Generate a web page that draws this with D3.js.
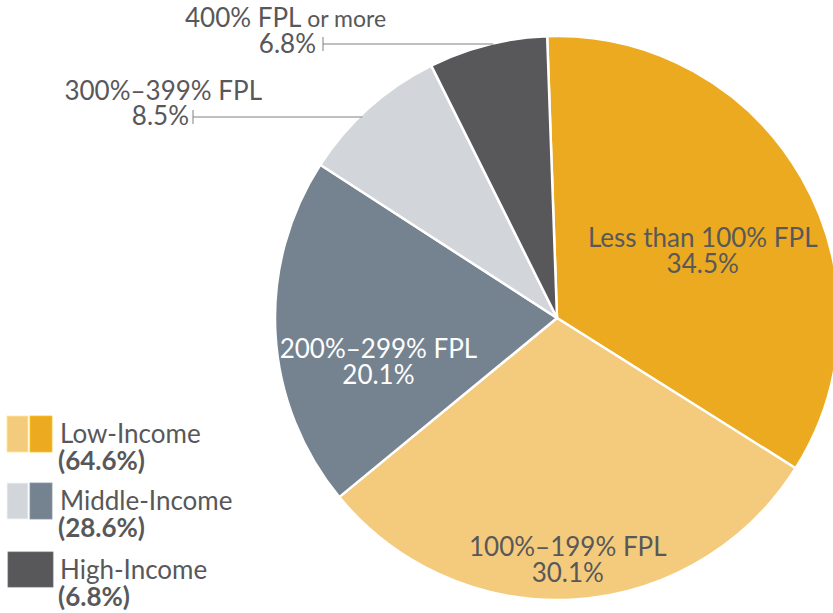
<html>
<head>
<style>
  body { margin: 0; background: #fff; }
  text { font-family: Lato, "Open Sans", sans-serif; }
</style>
<script src="https://cdn.jsdelivr.net/npm/d3@7"></script>
</head>
<body>
<div id="chartContainer"></div>
<script>
// slice data, clockwise from the top
var categories = ["Less than 100% FPL", "100%–199% FPL", "200%–299% FPL", "300%–399% FPL", "400% FPL or more"];
var values = [34.5, 30.1, 20.1, 8.5, 6.8];
var sliceColors = ["#ebaa20", "#f4cb7c", "#758390", "#d2d5da", "#58585a"];

// legend groups
var groups = ["Low-Income", "Middle-Income", "High-Income"];
var groupValues = [64.6, 28.6, 6.8];
var groupSlices = [[1, 0], [3, 2], [4]];

var W = 833, H = 613;
var cx = 557, cy = 318, R = 282;
var textColor = "#58585a";
var fs = 26;

var svg = d3.select("#chartContainer").append("svg")
  .attr("width", W).attr("height", H);

var data = categories.map(function (c, i) { return { name: c, value: values[i] }; });

var pie = d3.pie().sort(null).value(function (d) { return d.value; })
  .startAngle(-2 * Math.PI / 180).endAngle(2 * Math.PI - 2 * Math.PI / 180);
var arc = d3.arc().innerRadius(0).outerRadius(R);
var arcs = pie(data);

var g = svg.append("g").attr("transform", "translate(" + cx + "," + cy + ")");

g.selectAll("path.slice")
  .data(arcs)
  .enter().append("path")
    .attr("class", "slice")
    .attr("d", arc)
    .attr("fill", function (d, i) { return sliceColors[i]; })
    .attr("stroke", "#fff")
    .attr("stroke-width", 2.5)
    .attr("stroke-linejoin", "round");

// inside labels: polar position of the first baseline (radius, degrees from north)
var inside = [
  { i: 0, r: 162, a: 64.1, fill: textColor },
  { i: 1, r: 238, a: 177.4, fill: textColor },
  { i: 2, r: 183, a: 257.4, fill: "#fff" }
];
inside.forEach(function (p) {
  var rad = p.a * Math.PI / 180;
  var x = p.r * Math.sin(rad), y = -p.r * Math.cos(rad);
  var t = g.append("text")
    .attr("text-anchor", "middle")
    .attr("font-size", fs)
    .attr("fill", p.fill);
  t.append("tspan").attr("x", x).attr("y", y).text(categories[p.i]);
  t.append("tspan").attr("x", x).attr("y", y + 26).text(values[p.i].toFixed(1) + "%");
});

// outside labels with leader lines
var outside = [
  { i: 3, nameX: 262, nameY: 100, valX: 189, valY: 125, lineY: 117, tickX: 193 },
  { i: 4, nameX: 185, nameY: 27, valX: 316, valY: 53, lineY: 44, tickX: 323 }
];
outside.forEach(function (p) {
  if (p.i === 4) {
    var t = svg.append("text").attr("x", p.nameX).attr("y", p.nameY)
      .attr("font-size", fs).attr("fill", textColor);
    t.append("tspan").text("400% FPL ");
    t.append("tspan").attr("font-size", 23).text("or more");
  } else {
    svg.append("text").attr("x", p.nameX).attr("y", p.nameY)
      .attr("text-anchor", "end").attr("font-size", fs).attr("fill", textColor)
      .text(categories[p.i]);
  }
  svg.append("text").attr("x", p.valX).attr("y", p.valY)
    .attr("text-anchor", "end").attr("font-size", fs).attr("fill", textColor)
    .text(values[p.i].toFixed(1) + "%");
  var dy = p.lineY - cy;
  var endX = cx - Math.sqrt(R * R - dy * dy) + 3;
  svg.append("line")
    .attr("x1", p.tickX).attr("x2", endX)
    .attr("y1", p.lineY).attr("y2", p.lineY)
    .attr("stroke", "#808080").attr("stroke-width", 1);
  svg.append("line")
    .attr("x1", p.tickX).attr("x2", p.tickX)
    .attr("y1", p.lineY - 7).attr("y2", p.lineY + 7)
    .attr("stroke", "#808080").attr("stroke-width", 1);
});

// legend
var legY = [416, 483, 552];
groups.forEach(function (name, k) {
  var sl = groupSlices[k];
  var y = legY[k];
  if (sl.length === 2) {
    svg.append("rect").attr("x", 7).attr("y", y).attr("width", 21).attr("height", 36)
      .attr("fill", sliceColors[sl[0]]).attr("stroke", d3.color(sliceColors[sl[0]]).brighter(0.4)).attr("stroke-width", 0.8);
    svg.append("rect").attr("x", 30).attr("y", y).attr("width", 22).attr("height", 36)
      .attr("fill", sliceColors[sl[1]]).attr("stroke", d3.color(sliceColors[sl[1]]).brighter(0.4)).attr("stroke-width", 0.8);
  } else {
    svg.append("rect").attr("x", 8).attr("y", y).attr("width", 45).attr("height", 35)
      .attr("fill", sliceColors[sl[0]]).attr("stroke", d3.color(sliceColors[sl[0]]).brighter(0.6)).attr("stroke-width", 0.8);
  }
  svg.append("text").attr("x", 60).attr("y", y + 27)
    .attr("font-size", 26).attr("fill", textColor).text(name);
  svg.append("text").attr("x", 58).attr("y", y + 54)
    .attr("font-size", 26).attr("font-weight", "bold").attr("fill", textColor)
    .text("(" + groupValues[k].toFixed(1) + "%)");
});
</script>
</body>
</html>
